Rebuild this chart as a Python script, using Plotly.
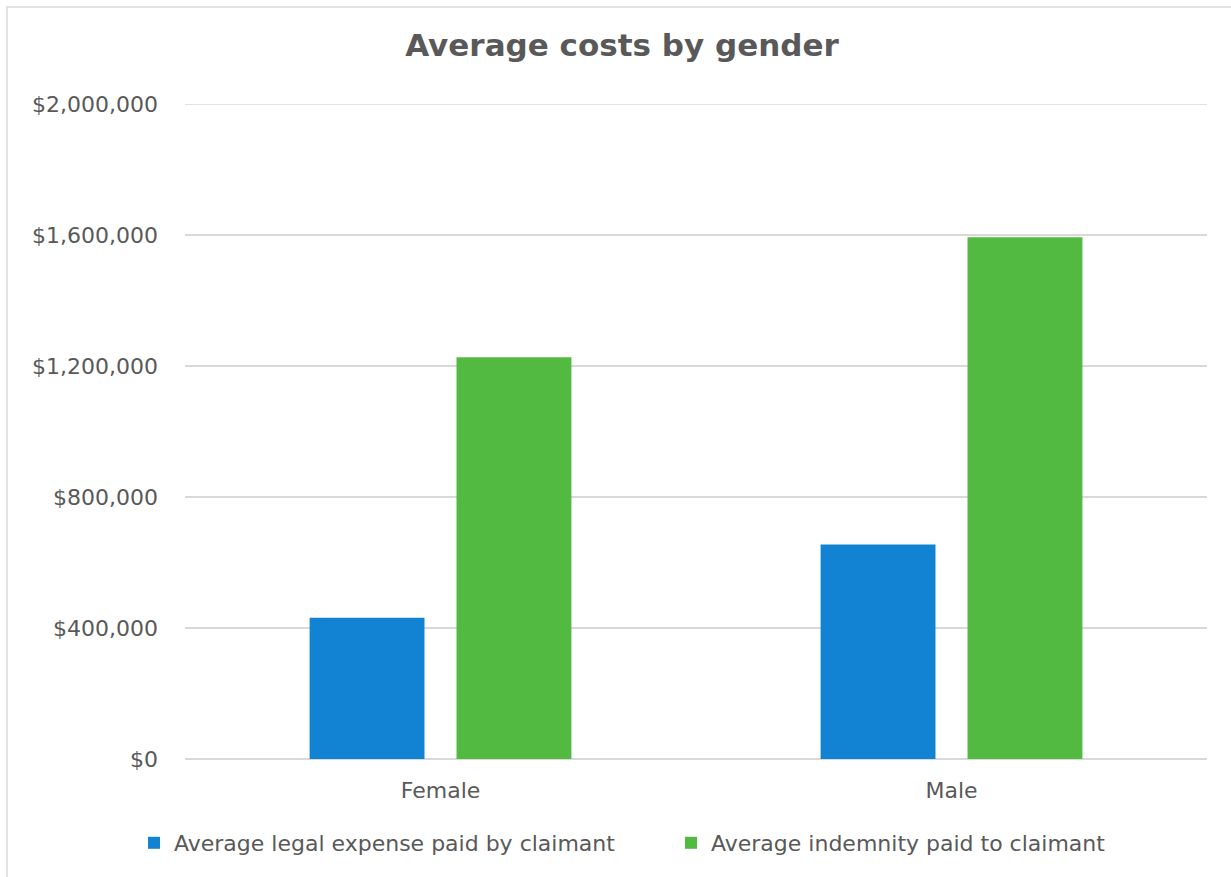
import plotly.graph_objects as go

categories = ["Female", "Male"]
legal_expense = [431000, 655000]
indemnity = [1227000, 1593000]
tick_vals = [0, 400000, 800000, 1200000, 1600000, 2000000]
tick_text = ["$0", "$400,000", "$800,000", "$1,200,000", "$1,600,000", "$2,000,000"]
series_names = ["Average legal expense paid by claimant", "Average indemnity paid to claimant"]

W, H = 1231, 877
L, R, T, B = 185, 24, 104, 118
pw, ph = W - L - R, H - T - B

FONT = "DejaVu Sans, Arial, sans-serif"
GREY = "#595959"
GRID = "#d9d9d9"

fig = go.Figure()
fig.add_trace(go.Bar(x=categories, y=legal_expense, name=series_names[0], legend="legend",
                     marker=dict(color="#1283d3", line=dict(width=0))))
fig.add_trace(go.Bar(x=categories, y=indemnity, name=series_names[1], legend="legend2",
                     marker=dict(color="#53ba41", line=dict(width=0))))

# top gridline at the last tick (plotly hides grid lines on the plot edge)
fig.add_shape(type="line", xref="paper", yref="y", x0=0, x1=1,
              y0=tick_vals[-1], y1=tick_vals[-1],
              line=dict(color=GRID, width=1.5), layer="below")

# chart border (outer frame)
fig.add_shape(type="rect", xref="paper", yref="paper",
              x0=(7 - L) / pw, x1=(W + 10 - L) / pw,
              y0=-(H + 10 - (T + ph)) / ph, y1=(T + ph - 7) / ph,
              line=dict(color=GRID, width=1.5), fillcolor="rgba(0,0,0,0)", layer="below")

leg_common = dict(orientation="h", xref="container", xanchor="left",
                  yref="paper", y=(ph - (843 - T)) / ph, yanchor="middle",
                  font=dict(family=FONT, size=22, color=GREY), itemwidth=30,
                  bgcolor="rgba(0,0,0,0)")

fig.update_layout(
    width=W, height=H,
    margin=dict(l=L, r=R, t=T, b=B, autoexpand=False),
    paper_bgcolor="white", plot_bgcolor="white",
    barmode="group", bargap=0.425, bargroupgap=0.218,
    title=dict(text="<b>Average costs by gender</b>", x=622 / W, xref="container", xanchor="center",
               y=1 - 45 / H, yref="container", yanchor="middle",
               font=dict(family=FONT, size=31, color=GREY)),
    font=dict(family=FONT, size=22, color=GREY),
    showlegend=True,
    legend=dict(x=134 / W, **leg_common),
    legend2=dict(x=671 / W, **leg_common),
    yaxis=dict(range=[0, 2000000], tickvals=tick_vals, ticktext=tick_text,
               showgrid=True, gridcolor=GRID, gridwidth=1.5,
               zeroline=True, zerolinecolor=GRID, zerolinewidth=1.5,
               showline=False, ticks="", ticklabelstandoff=26,
               tickfont=dict(family=FONT, size=22, color=GREY)),
    xaxis=dict(showgrid=False, showline=False, ticks="", ticklabelstandoff=16,
               tickfont=dict(family=FONT, size=22, color=GREY)),
)

fig.write_html("out.html")
